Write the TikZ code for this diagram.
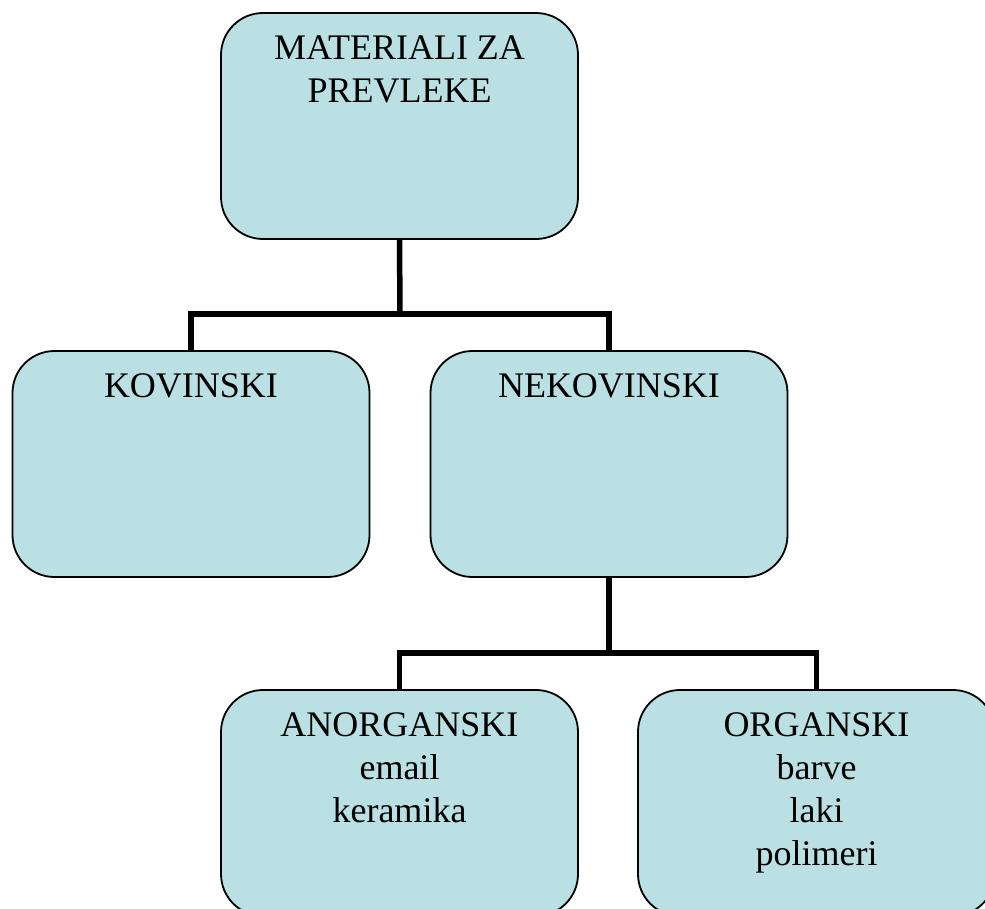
\documentclass[tikz,border=0pt]{standalone}
\usepackage{fontspec}
\setmainfont{Liberation Serif}
\definecolor{boxfill}{RGB}{186,224,227}
\tikzset{
  orgbox/.style={draw=black, line width=1.8pt, fill=boxfill, rounded corners=42pt,
    minimum width=357pt, minimum height=226pt, inner sep=0pt, outer sep=0pt},
  boxtext/.style={anchor=base, align=center, inner sep=0pt,
    font=\fontsize{36}{43}\selectfont},
  conn/.style={draw=black, line width=5.5pt}
}
\begin{document}
\begin{tikzpicture}[x=1pt,y=-1pt]
\useasboundingbox (0,0) rectangle (985,908);
% boxes (anchor north at top edge)
\node[orgbox, anchor=north] (top) at (399.5,13) {};
\node[orgbox, anchor=north] (kov) at (191,351) {};
\node[orgbox, anchor=north] (nek) at (609,351) {};
\node[orgbox, anchor=north] (anorg) at (399.5,690) {};
\node[orgbox, anchor=north] (org) at (816.5,690) {};
% texts (base anchor = baseline of last line)
\node[boxtext] (toptxt) at ([yshift=-89pt]top.north) {MATERIALI ZA\\PREVLEKE};
\node[boxtext] (kovtxt) at ([yshift=-46pt]kov.north) {KOVINSKI};
\node[boxtext] (nektxt) at ([yshift=-46pt]nek.north) {NEKOVINSKI};
\node[boxtext] (anorgtxt) at ([yshift=-132pt]anorg.north) {ANORGANSKI\\email\\keramika};
\node[boxtext] (orgtxt) at ([yshift=-175pt]org.north) {ORGANSKI\\barve\\laki\\polimeri};
% connectors
\coordinate (j1) at (400,314);
\coordinate (j2) at (609,653);
\draw[conn] (top.south) -- (j1);
\draw[conn] (kov.north) |- (j1) -| (nek.north);
\draw[conn] (nek.south) -- (j2);
\draw[conn] (anorg.north) |- (j2) -| (org.north);
\end{tikzpicture}
\end{document}
